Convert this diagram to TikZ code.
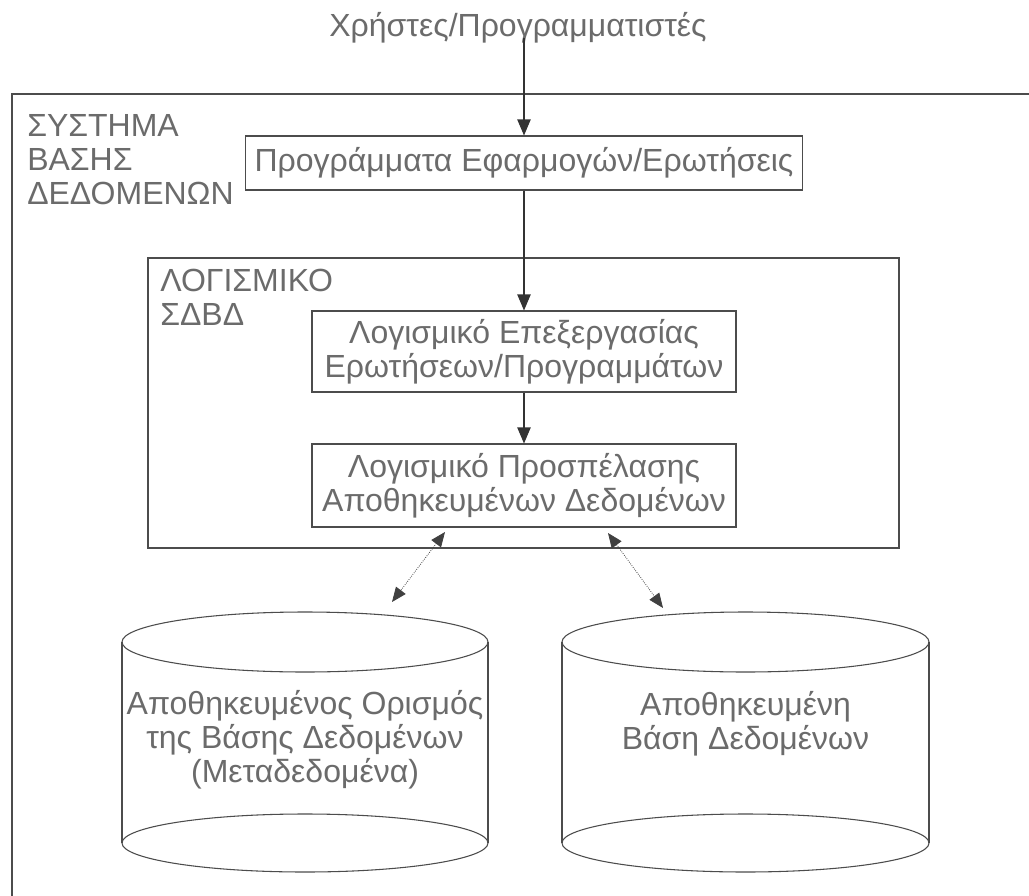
\documentclass[tikz,border=0pt]{standalone}
\usepackage{fontspec}
\setmainfont{Liberation Sans}
\usetikzlibrary{arrows.meta}
\begin{document}
\begin{tikzpicture}[x=0.75pt,y=-0.75pt,
  txt/.style={font=\fontsize{24}{25.5}\selectfont, text=black!58, inner sep=0pt},
  box/.style={txt, draw=black!70, line width=0.8pt, align=center},
  arr/.style={draw=black!80, line width=0.8pt, -{Triangle[length=12pt,width=10pt]}},
  darr/.style={draw=black!75, line width=0.6pt, densely dotted, {Triangle[length=11pt,width=9pt]}-{Triangle[length=11pt,width=9pt]}},
  cylline/.style={draw=black!70, line width=0.8pt},
  frame/.style={draw=black!70, line width=0.8pt}]
\useasboundingbox (0,0) rectangle (1029,896);
\fill[white] (0,0) rectangle (1029,896);
% outer frame (open on right and bottom)
\draw[frame] (1029,94) -- (12,94) -- (12,896);
\node[txt, anchor=north west, align=left] (sys) at (27,114) {ΣΥΣΤΗΜΑ\\ΒΑΣΗΣ\\ΔΕΔΟΜΕΝΩΝ};
% title
\node[txt] (users) at (518,28) {Χρήστες/Προγραμματιστές};
% box 1
\node[box, minimum width=417.75pt, minimum height=40.5pt] (apps) at (524,163) {Προγράμματα Εφαρμογών/Ερωτήσεις};
% inner DBMS box
\node[draw=black!70, line width=0.8pt, minimum width=563.25pt, minimum height=217.5pt, inner sep=0pt] (dbms) at (523.5,403) {};
\node[txt, anchor=north west, align=left] (dbmslbl) at (160,269) {ΛΟΓΙΣΜΙΚΟ\\ΣΔΒΔ};
\node[box, minimum width=318pt, minimum height=60.75pt] (proc) at (524,351.5) {Λογισμικό Επεξεργασίας\\Ερωτήσεων/Προγραμμάτων};
\node[box, minimum width=318pt, minimum height=62.25pt] (acc) at (524,485.5) {Λογισμικό Προσπέλασης\\Αποθηκευμένων Δεδομένων};
% vertical arrows
\draw[arr] (apps.north |- users.south) ++(0,-6) -- (apps.north);
\draw[arr] (apps.south) -- (proc.north);
\draw[arr] (proc.south) -- (acc.north);
% cylinders
\draw[cylline] (305,642) ellipse [x radius=183, y radius=30];
\draw[cylline] (305,843) ellipse [x radius=183, y radius=29];
\draw[cylline] (122,642) -- (122,843);
\draw[cylline] (488,642) -- (488,843);
\node[txt, align=center] (meta) at (305,740) {Αποθηκευμένος Ορισμός\\της Βάσης Δεδομένων\\(Μεταδεδομένα)};
\draw[cylline] (745.5,642) ellipse [x radius=183.5, y radius=30];
\draw[cylline] (745.5,843) ellipse [x radius=183.5, y radius=29];
\draw[cylline] (562,642) -- (562,843);
\draw[cylline] (929,642) -- (929,843);
\node[txt, align=center] (stored) at (745.5,724) {Αποθηκευμένη\\Βάση Δεδομένων};
% bidirectional arrows
\coordinate (l1) at (445,532);
\coordinate (l2) at (392,602);
\coordinate (r1) at (608,533);
\coordinate (r2) at (663,608);
\draw[darr] (l1) -- (l2);
\draw[darr] (r1) -- (r2);
\end{tikzpicture}
\end{document}
